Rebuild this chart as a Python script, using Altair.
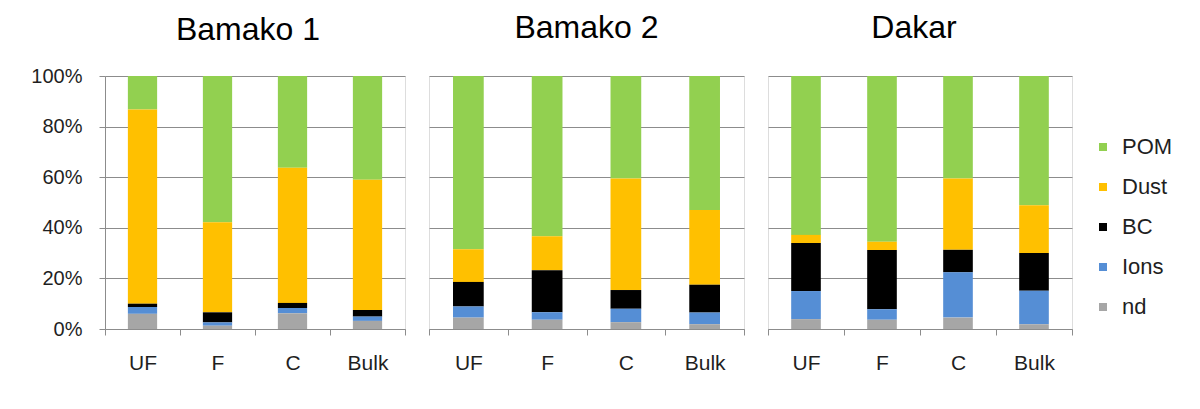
import altair as alt
import pandas as pd

sites = ["Bamako 1", "Bamako 2", "Dakar"]
fractions = ["UF", "F", "C", "Bulk"]
components = ["POM", "Dust", "BC", "Ions", "nd"]          # legend order (top to bottom)
stack_order = {"nd": 0, "Ions": 1, "BC": 2, "Dust": 3, "POM": 4}  # bottom to top
colors = ["#92D050", "#FFC000", "#000000", "#558ED5", "#A6A6A6"]

# percent of mass, per fraction UF, F, C, Bulk
nd = {"Bamako 1": [6.0, 1.3, 6.2, 3.2],
      "Bamako 2": [4.5, 3.7, 2.7, 1.9],
      "Dakar":    [3.9, 3.7, 4.5, 1.9]}
ions = {"Bamako 1": [2.7, 1.3, 2.1, 1.7],
        "Bamako 2": [4.4, 2.9, 5.3, 4.6],
        "Dakar":    [11.1, 4.1, 17.9, 13.2]}
bc = {"Bamako 1": [1.3, 4.0, 2.0, 2.6],
      "Bamako 2": [9.7, 16.6, 7.4, 11.0],
      "Dakar":    [19.0, 23.4, 8.9, 14.9]}
dust = {"Bamako 1": [76.8, 35.6, 53.4, 51.5],
        "Bamako 2": [12.9, 13.5, 44.1, 29.5],
        "Dakar":    [3.2, 3.3, 28.2, 18.9]}
pom = {"Bamako 1": [13.2, 57.8, 36.3, 41.0],
       "Bamako 2": [68.5, 63.3, 40.5, 53.0],
       "Dakar":    [62.8, 65.5, 40.5, 51.1]}

series = {"POM": pom, "Dust": dust, "BC": bc, "Ions": ions, "nd": nd}

rows = []
for s in sites:
    for i, f in enumerate(fractions):
        for c in components:
            rows.append({"site": s, "fraction": f, "component": c,
                         "value": series[c][s][i], "order": stack_order[c]})
df = pd.DataFrame(rows)

FONT = "Liberation Sans"
GRID = "#8C8C8C"
TXT = "#1F1F1F"
widths = [300, 315, 304]
title_dx = [-7, 0, -6]
title_dy = [12, 0, 0]
H = 253


def panel(idx):
    site = sites[idx]
    first = idx == 0
    d = df[df.site == site]
    if first:
        yaxis = alt.Axis(values=[0, 0.2, 0.4, 0.6, 0.8, 1.0], format=".0%", title=None,
                         grid=True, gridColor=GRID, gridWidth=1,
                         domain=True, domainColor=GRID, domainWidth=1,
                         ticks=True, tickColor=GRID, tickSize=6,
                         labelFont=FONT, labelFontSize=20, labelColor=TXT, labelPadding=17)
    else:
        yaxis = alt.Axis(values=[0, 0.2, 0.4, 0.6, 0.8, 1.0], title=None,
                         grid=True, gridColor=GRID, gridWidth=1,
                         domain=False, ticks=False, labels=False)
    xaxis = alt.Axis(title=None, labelAngle=0, grid=False, tickBand="extent",
                     domain=True, domainColor=GRID, domainWidth=1,
                     ticks=True, tickColor=GRID, tickSize=6,
                     labelFont=FONT, labelFontSize=21, labelColor=TXT, labelPadding=17)
    ch = alt.Chart(d).mark_bar(width=alt.RelativeBandSize(0.39)).encode(
        x=alt.X("fraction:N", sort=fractions,
                scale=alt.Scale(paddingInner=0, paddingOuter=0), axis=xaxis),
        y=alt.Y("value:Q", stack="normalize", scale=alt.Scale(domain=[0, 1]), axis=yaxis),
        color=alt.Color("component:N",
                        scale=alt.Scale(domain=components, range=colors),
                        legend=alt.Legend(title=None, orient="none", legendX=987, legendY=60,
                                          symbolType="square", symbolSize=64, symbolStrokeWidth=0,
                                          labelFont=FONT, labelFontSize=22, labelColor=TXT,
                                          labelOffset=8, rowPadding=18, padding=0)),
        order=alt.Order("order:Q"),
    ).properties(
        width=widths[idx], height=H,
        title=alt.Title(site, font=FONT, fontSize=32, fontWeight="normal", color="#000000",
                        baseline="alphabetic", offset=6, dx=title_dx[idx], dy=title_dy[idx]),
    )
    return ch


chart = alt.hconcat(panel(0), panel(1), panel(2), spacing=22).properties(
    padding={"left": 22, "top": 3, "right": 5, "bottom": 5},
).configure_view(stroke=None).configure(background="white")

chart.save("out.html", embed_options={"renderer": "svg", "actions": False})
